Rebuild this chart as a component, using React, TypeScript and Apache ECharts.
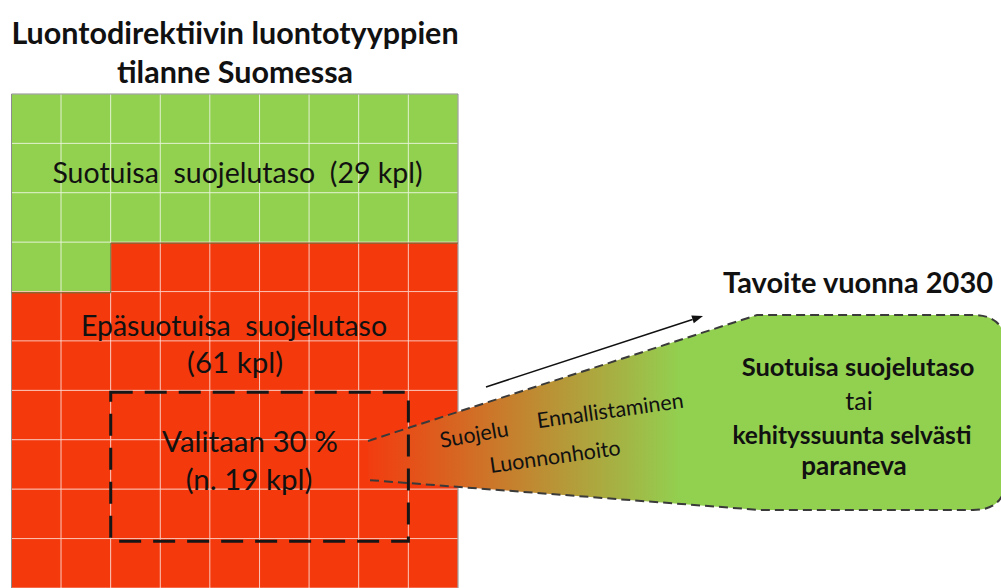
import React, { useEffect, useRef } from "react";
import * as echarts from "echarts";

// ---- data ----
const GRID_COLUMNS = 9;
const GRID_ROWS = 10;
const statusNames = ["Suotuisa  suojelutaso", "Epäsuotuisa  suojelutaso"];
const statusCounts = [29, 61];
const statusColors = ["#92D050", "#F4390D"];
const selectedShare = 30;
const selectedCount = 19;
const measures = ["Suojelu", "Ennallistaminen", "Luonnonhoito"];
const titleLines = ["Luontodirektiivin luontotyyppien", "tilanne Suomessa"];
const targetTitle = "Tavoite vuonna 2030";
const targetLines = ["Suotuisa suojelutaso", "tai", "kehityssuunta selvästi", "paraneva"];

// ---- layout ----
const GL = 11.5, GT = 94, GW = 446.5, GH = 497;
const CW = GW / GRID_COLUMNS, CH = GH / GRID_ROWS;
const FONT = "Lato";

const funnelD =
  "M368 441 L757 315 L973 315 Q1006 315 1006 348 L1006 477 Q1006 510 973 510 L760 510 L368 480 Z";
const outlineD =
  "M368 441 L757 315 L973 315 Q1006 315 1006 348 L1006 477 Q1006 510 973 510 L760 510 L368 480";

let registered = false;
function registerShapes() {
  if (registered) return;
  echarts.graphic.registerShape("funnelFill", echarts.graphic.extendPath(funnelD, {}));
  echarts.graphic.registerShape("funnelLine", echarts.graphic.extendPath(outlineD, {}));
  registered = true;
}

export default function App() {
  const ref = useRef<HTMLDivElement>(null);
  useEffect(() => {
    document.body.style.margin = "0";
    registerShapes();
    const chart = echarts.init(ref.current!, null, { renderer: "svg" });

    // build waffle cells row-major from the counts
    const cells: number[][] = [];
    let idx = 0;
    statusCounts.forEach((cnt, s) => {
      for (let k = 0; k < cnt; k++) {
        const col = idx % GRID_COLUMNS;
        const row = Math.floor(idx / GRID_COLUMNS);
        cells.push([col, row, s]);
        idx++;
      }
    });
    const greenFullRows = Math.floor(statusCounts[0] / GRID_COLUMNS);
    const greenRest = statusCounts[0] % GRID_COLUMNS;

    // selected box: cols 2..7, rows 6..8
    const bx = GL + 2 * CW, by = GT + 6 * CH, bw = 6 * CW, bh = 3 * CH;

    const tip = [703, 316];
    const start = [486, 387];
    const dx = tip[0] - start[0], dy = tip[1] - start[1];
    const len = Math.hypot(dx, dy);
    const ux = dx / len, uy = dy / len;
    const nx = -uy, ny = ux;
    const baseX = tip[0] - 11 * ux, baseY = tip[1] - 11 * uy;

    const txt = (text: string, x: number, y: number, size: number, bold: boolean, extra: any = {}) => ({
      type: "text",
      x,
      y,
      z: 100,
      ...extra,
      style: {
        text,
        fontFamily: FONT,
        fontSize: size,
        fontWeight: bold ? "bold" : "normal",
        fill: "#111111",
        align: "center",
        verticalAlign: "middle",
      },
    });

    const deg = Math.PI / 180;

    chart.setOption({
      animation: false,
      backgroundColor: "#ffffff",
      grid: { left: GL, top: GT, width: GW, height: GH },
      xAxis: {
        type: "category",
        data: Array.from({ length: GRID_COLUMNS }, (_, i) => String(i)),
        show: false,
      },
      yAxis: {
        type: "category",
        inverse: true,
        data: Array.from({ length: GRID_ROWS }, (_, i) => String(i)),
        show: false,
      },
      series: [
        {
          type: "custom",
          data: cells,
          renderItem: (params: any, api: any) => {
            const c = api.coord([api.value(0), api.value(1)]);
            const s = api.size([1, 1]);
            return {
              type: "rect",
              shape: { x: c[0] - s[0] / 2, y: c[1] - s[1] / 2, width: s[0], height: s[1] },
              style: {
                fill: statusColors[api.value(2)],
                stroke: "rgba(255,255,255,0.5)",
                lineWidth: 1,
              },
            };
          },
        },
      ],
      graphic: {
        elements: [
          // outer border
          {
            type: "rect",
            z: 50,
            shape: { x: GL, y: GT, width: GW, height: GH },
            style: { fill: "none", stroke: "#8c8c8c", lineWidth: 1 },
          },
          // green / red boundary
          {
            type: "polyline",
            z: 50,
            shape: {
              points: [
                [GL, GT + (greenFullRows + 1) * CH],
                [GL + greenRest * CW, GT + (greenFullRows + 1) * CH],
                [GL + greenRest * CW, GT + greenFullRows * CH],
                [GL + GW, GT + greenFullRows * CH],
              ],
            },
            style: { fill: "none", stroke: "#5f7a3a", lineWidth: 1 },
          },
          // funnel
          {
            type: "funnelFill",
            z: 60,
            style: {
              fill: new echarts.graphic.LinearGradient(0, 0, 1, 0, [
                { offset: 0, color: "#F23C10" },
                { offset: 0.49, color: "#92D050" },
                { offset: 1, color: "#92D050" },
              ]),
              stroke: "none",
            },
          },
          {
            type: "funnelLine",
            z: 61,
            style: { fill: "none", stroke: "#3a3a3a", lineWidth: 2, lineDash: [9, 5] },
          },
          // selection box
          {
            type: "rect",
            z: 65,
            shape: { x: bx, y: by, width: bw, height: bh },
            style: { fill: "none", stroke: "#161616", lineWidth: 3, lineDash: [22, 12] },
          },
          // arrow
          {
            type: "line",
            z: 70,
            shape: { x1: start[0], y1: start[1], x2: baseX, y2: baseY },
            style: { stroke: "#111111", lineWidth: 1.5 },
          },
          {
            type: "polygon",
            z: 70,
            shape: {
              points: [
                tip,
                [baseX + 4 * nx, baseY + 4 * ny],
                [baseX - 4 * nx, baseY - 4 * ny],
              ],
            },
            style: { fill: "#111111" },
          },
          // titles
          txt(titleLines[0], 235, 32, 30.5, true),
          txt(titleLines[1], 235, 71, 30.5, true),
          txt(`${statusNames[0]}  (${statusCounts[0]} kpl)`, 237.5, 172, 28.5, false),
          txt(statusNames[1], 234, 325, 28.5, false),
          txt(`(${statusCounts[1]} kpl)`, 235, 361, 29.5, false),
          txt(`Valitaan ${selectedShare} %`, 250, 440, 29.5, false),
          txt(`(n. ${selectedCount} kpl)`, 249, 478, 29.5, false),
          txt(measures[0], 474, 434, 21.5, false, { rotation: 10 * deg }),
          txt(measures[1], 610, 410, 21.5, false, { rotation: 8 * deg }),
          txt(measures[2], 555, 456, 21.5, false, { rotation: 8 * deg }),
          txt(targetTitle, 858, 281, 29, true),
          txt(targetLines[0], 858, 366, 25.5, true),
          txt(targetLines[1], 859, 400, 25, false),
          txt(targetLines[2], 852, 434, 24.5, true),
          txt(targetLines[3], 854, 465, 26, true),
        ],
      },
    });
    return () => chart.dispose();
  }, []);
  return <div ref={ref} style={{ width: 1001, height: 588 }} />;
}
